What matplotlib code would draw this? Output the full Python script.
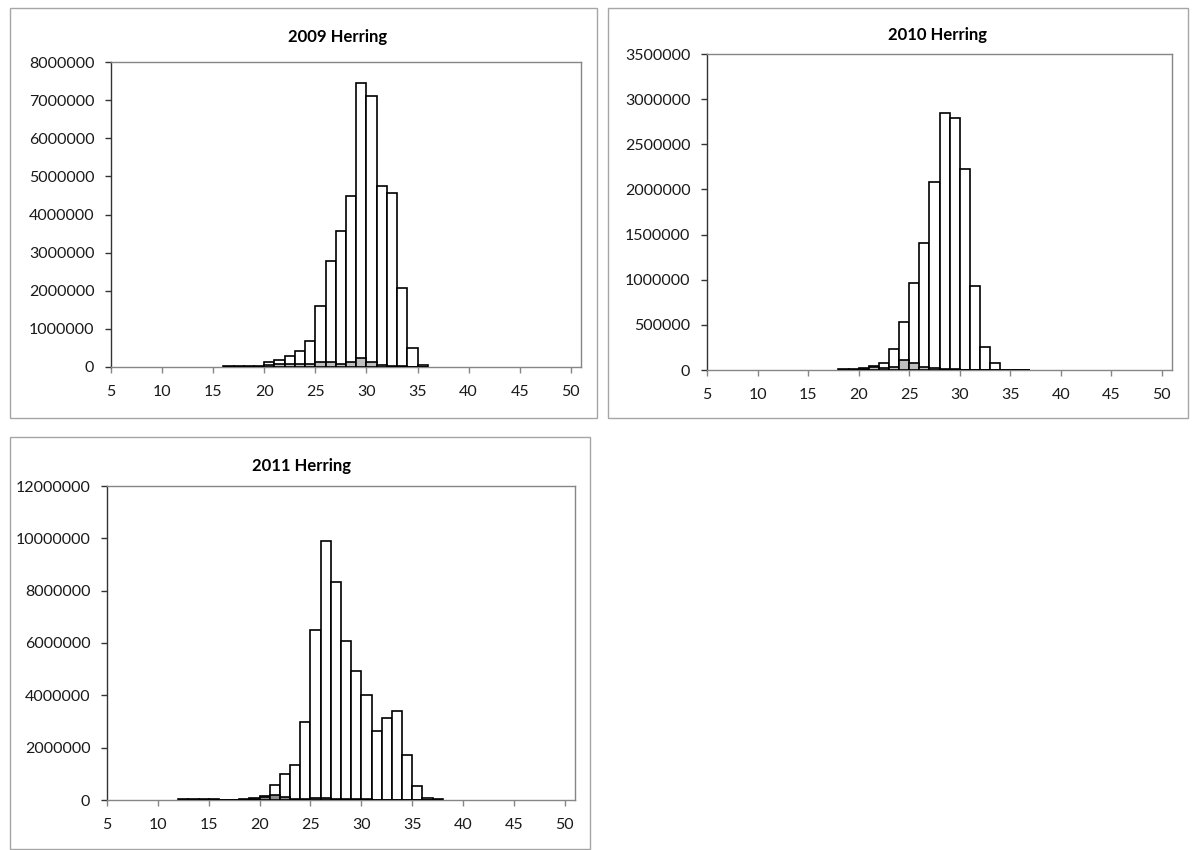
import matplotlib
matplotlib.use("Agg")
import matplotlib.pyplot as plt
from matplotlib.patches import Rectangle
from matplotlib.ticker import MultipleLocator, FuncFormatter

plt.rcParams["font.family"] = ["Lato", "DejaVu Sans"]

# length bins (cm, left edge) and abundance per bin: all fish (white) and subset (grey)
len_2009 = list(range(16, 36))
all_2009 = [20000, 20000, 20000, 20000, 122000, 190000, 300000, 410000, 670000, 1600000,
            2770000, 3560000, 4490000, 7450000, 7120000, 4750000, 4570000, 2060000, 500000, 44000]
sub_2009 = [0, 0, 0, 0, 60000, 90000, 90000, 90000, 90000, 120000,
            120000, 90000, 120000, 240000, 120000, 40000, 20000, 20000, 0, 0]

len_2010 = list(range(18, 37))
all_2010 = [7000, 7000, 18000, 48000, 80000, 236000, 528000, 967000, 1410000, 2080000,
            2850000, 2790000, 2230000, 934000, 250000, 78000, 5000, 5000, 5000]
sub_2010 = [0, 0, 15000, 33000, 26000, 33000, 110000, 74000, 30000, 18000,
            7000, 15000, 3000, 0, 0, 0, 0, 0, 0]

len_2011 = list(range(12, 38))
all_2011 = [20000, 20000, 20000, 20000, 0, 0, 20000, 60000, 170000, 560000,
            990000, 1330000, 2970000, 6510000, 9900000, 8320000, 6080000, 4930000, 4000000, 2650000,
            3140000, 3400000, 1710000, 550000, 70000, 25000]
sub_2011 = [0, 0, 0, 0, 0, 0, 10000, 40000, 120000, 190000,
            100000, 30000, 30000, 70000, 70000, 25000, 20000, 20000, 20000, 0,
            0, 0, 0, 0, 0, 0]

titles = ["2009 Herring", "2010 Herring", "2011 Herring"]
y_max = [8000000, 3500000, 12000000]
y_step = [1000000, 500000, 2000000]
sub_colors = ["#bfbfbf", "#bfbfbf", "#8c8c8c"]

W, H = 1194, 850
# pixel boxes: chart frame (x0, y0, x1, y1), plot area (x0, y0, x1, y1), title centre
frames = [(10, 8, 597, 418), (608, 8, 1188, 418), (10, 437, 590, 849)]
plots = [(111, 62, 581, 367), (707, 54, 1172, 370), (107, 486, 575, 800)]
title_xy = [(338, 37), (938, 35), (302, 466)]

AXIS_GREY = "#868686"

fig = plt.figure(figsize=(W / 100, H / 100), dpi=100)

for (fx0, fy0, fx1, fy1) in frames:
    fig.patches.append(Rectangle((fx0 / W, 1 - fy1 / H), (fx1 - fx0) / W, (fy1 - fy0) / H,
                                 transform=fig.transFigure, fill=False,
                                 edgecolor="#a6a6a6", linewidth=1.0))

data = [(len_2009, all_2009, sub_2009), (len_2010, all_2010, sub_2010),
        (len_2011, all_2011, sub_2011)]

for i, (bins, tot, sub) in enumerate(data):
    x0, y0, x1, y1 = plots[i]
    ax = fig.add_axes([x0 / W, 1 - y1 / H, (x1 - x0) / W, (y1 - y0) / H])
    ax.bar(bins, tot, width=1.0, align="edge", color="white",
           edgecolor="black", linewidth=1.2, zorder=2)
    ax.bar(bins, sub, width=1.0, align="edge", color=sub_colors[i],
           edgecolor="black", linewidth=1.2, zorder=3)
    ax.set_xlim(5, 51)
    ax.set_ylim(0, y_max[i])
    ax.xaxis.set_major_locator(MultipleLocator(5))
    ax.yaxis.set_major_locator(MultipleLocator(y_step[i]))
    ax.yaxis.set_major_formatter(FuncFormatter(lambda v, p: f"{int(round(v))}"))
    for sp in ax.spines.values():
        sp.set_color(AXIS_GREY)
        sp.set_linewidth(1.0)
    ax.spines["left"].set_color("#333333")
    ax.tick_params(direction="out", length=4, width=1.0, color=AXIS_GREY,
                   labelsize=11.5, labelcolor="#1a1a1a")
    ax.tick_params(axis="x", pad=9)
    ax.tick_params(axis="y", pad=8, color="#333333")
    tx, ty = title_xy[i]
    fig.text(tx / W, 1 - ty / H, titles[i], ha="center", va="center",
             fontsize=12, fontweight="bold", color="black")

fig.savefig("out.png", dpi=100)
